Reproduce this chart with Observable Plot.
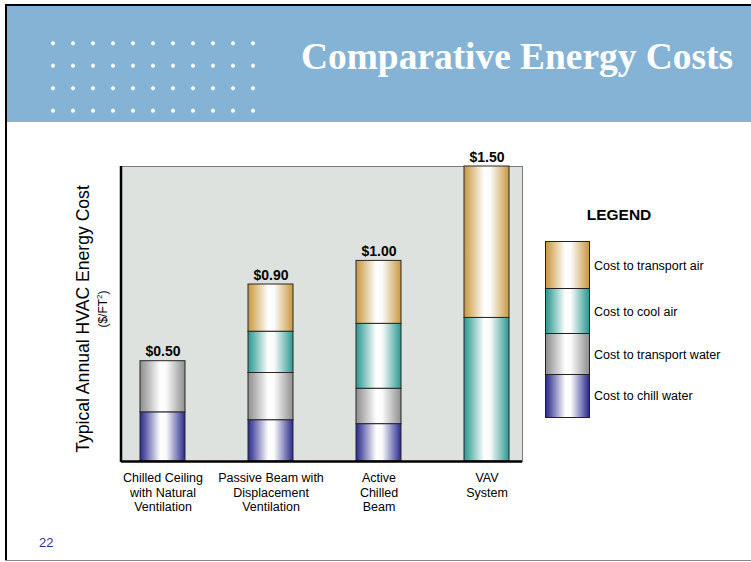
<!DOCTYPE html>
<html>
<head>
<meta charset="utf-8">
<script src="https://cdn.jsdelivr.net/npm/d3@7"></script>
<script src="https://cdn.jsdelivr.net/npm/@observablehq/plot@0.6"></script>
<style>
  html, body { margin: 0; padding: 0; }
  body { width: 751px; height: 562px; position: relative; overflow: hidden; background: #fff;
         font-family: "Liberation Sans", Arial, sans-serif; }
  .abs { position: absolute; }
  #header { left: 7px; top: 6px; width: 744px; height: 116px; background: #84b3d6; }
  #dots { left: 36px; top: 25.75px; width: 220px; height: 90px;
          background-image: radial-gradient(circle, #ffffff 0, #ffffff 1.6px, rgba(255,255,255,0) 2.4px);
          background-size: 20px 22.5px; }
  #title { left: 301px; top: 37.5px; color: #fff; font-family: "Liberation Serif", "Times New Roman", serif;
           font-weight: bold; font-size: 37.4px; line-height: 37px; white-space: nowrap; }
  #chart { left: 0; top: 122px; }
  .ylab { transform-origin: center center; white-space: nowrap; text-align: center; color: #000; }
  .legseg { position: absolute; left: 545px; width: 43px; border: 1px solid #222; box-sizing: content-box; }
  .leglab { position: absolute; left: 594px; font-size: 12.5px; line-height: 14px; height: 14px; color: #000; white-space: nowrap; }
</style>
</head>
<body>
<div class="abs" style="left:5px;top:4px;width:746px;height:2px;background:#000"></div>
<div class="abs" style="left:5px;top:4px;width:2px;height:557px;background:#000"></div>
<div class="abs" style="left:5px;top:560px;width:746px;height:1px;background:#8a8a8a"></div>
<div id="header" class="abs"><div id="dots" class="abs"></div></div>
<div id="title" class="abs">Comparative Energy Costs</div>
<div id="chart" class="abs"></div>
<div class="abs ylab" style="left:-67px;top:309px;width:300px;height:20px;line-height:20px;font-size:17.6px;transform:rotate(-90deg)">Typical Annual HVAC Energy Cost</div>
<div class="abs ylab" style="left:63px;top:302px;width:80px;height:14px;line-height:14px;font-size:12px;transform:rotate(-90deg)">($/FT<sup style="font-size:8px;vertical-align:5px;line-height:0">2</sup>)</div>
<div class="abs" style="left:559px;top:206px;width:120px;text-align:center;font-weight:bold;font-size:15.5px;line-height:18px">LEGEND</div>
<div id="legend"></div>
<div class="abs" style="left:39px;top:536px;font-size:13px;line-height:13px;color:#333399">22</div>
<script>
// ---- data ----
const systems = ["Chilled Ceiling", "Passive Beam", "Active Chilled Beam", "VAV System"];
const tickLabels = [
  "Chilled Ceiling\nwith Natural\nVentilation",
  "Passive Beam with\nDisplacement\nVentilation",
  "Active\nChilled\nBeam",
  "VAV\nSystem"
];
const series = ["Cost to chill water", "Cost to transport water", "Cost to cool air", "Cost to transport air"];
const chillWater     = [0.25, 0.21, 0.19, 0.00];
const transportWater = [0.26, 0.24, 0.18, 0.00];
const coolAir        = [0.00, 0.21, 0.33, 0.73];
const transportAir   = [0.00, 0.24, 0.32, 0.77];
const totalLabels = ["$0.50", "$0.90", "$1.00", "$1.50"];

// ---- styles ----
const seriesColors = ["#2a2a8e", "#8e8e8e", "#2b9890", "#c8983f"];
const gradIds = ["g-chill", "g-twater", "g-cool", "g-tair"];

const valuesBySeries = [chillWater, transportWater, coolAir, transportAir];
const data = [];
systems.forEach((s, i) => {
  series.forEach((k, j) => {
    const v = valuesBySeries[j][i];
    if (v > 0) data.push({system: s, series: k, value: v});
  });
});
const totals = systems.map((s, i) => ({
  system: s,
  total: d3.sum(valuesBySeries, arr => arr[i]),
  label: totalLabels[i]
}));

function gradStops(c) {
  return [[0, c], [0.12, d3.interpolateRgb(c, "#fff")(0.25)], [0.45, "#ffffff"], [0.58, "#fbfbfb"], [1, c]];
}

const defsMark = () => {
  const g = d3.create("svg:g");
  const defs = g.append("defs");
  gradIds.forEach((id, j) => {
    const lg = defs.append("linearGradient").attr("id", id).attr("x1", 0).attr("x2", 1).attr("y1", 0).attr("y2", 0);
    gradStops(seriesColors[j]).forEach(([o, c]) => lg.append("stop").attr("offset", o).attr("stop-color", c));
  });
  return g.node();
};
const leftAxisLine = (index, scales, values, dims) => {
  return d3.create("svg:line")
    .attr("x1", dims.marginLeft).attr("x2", dims.marginLeft)
    .attr("y1", dims.marginTop).attr("y2", dims.height - dims.marginBottom + 1)
    .attr("stroke", "#000").attr("stroke-width", 2.5).node();
};

const chart = Plot.plot({
  width: 751,
  height: 438,
  marginTop: 44,
  marginBottom: 99,
  marginLeft: 121,
  marginRight: 229,
  style: {fontFamily: "'Liberation Sans', Arial, sans-serif", fontSize: "12.5px", color: "#000", background: "transparent", overflow: "visible"},
  x: {domain: systems, range: [118, 530.5], paddingInner: 0.583, paddingOuter: 0.2, label: null},
  y: {domain: [0, 1.5], axis: null},
  color: {domain: series, range: gradIds.map(id => `url(#${id})`)},
  marks: [
    defsMark,
    Plot.frame({fill: "#dde2df", stroke: "#7a7a7a", strokeWidth: 1}),
    Plot.barY(data, {x: "system", y: "value", fill: "series", stroke: "#262626", strokeWidth: 1}),
    Plot.ruleY([0], {stroke: "#000", strokeWidth: 2.5}),
    leftAxisLine,
    Plot.text(totals, {x: "system", y: "total", text: "label", dy: -5, lineAnchor: "bottom", fontWeight: "bold", fontSize: 14, fill: "#000"}),
    Plot.axisX({tickSize: 0, tickPadding: 10.5, fontSize: 12.5, lineHeight: 1.16, label: null,
      tickFormat: d => tickLabels[systems.indexOf(d)], fill: "#000"})
  ]
});
document.getElementById("chart").appendChild(chart);

// ---- HTML legend (top to bottom: transport air, cool air, transport water, chill water) ----
const legTops = [242, 289, 334, 375, 417];
const legend = document.getElementById("legend");
[3, 2, 1, 0].forEach((j, r) => {
  const top = legTops[r], bot = legTops[r + 1];
  const c = seriesColors[j];
  const stops = gradStops(c).map(([o, col]) => `${col} ${o * 100}%`).join(", ");
  const seg = document.createElement("div");
  seg.className = "legseg";
  seg.style.top = (top - 1) + "px";
  seg.style.height = (bot - top) + "px";
  seg.style.background = `linear-gradient(to right, ${stops})`;
  legend.appendChild(seg);
  const lab = document.createElement("div");
  lab.className = "leglab";
  lab.style.top = ((top + bot) / 2 - 7) + "px";
  lab.textContent = series[j];
  legend.appendChild(lab);
});
</script>
</body>
</html>
